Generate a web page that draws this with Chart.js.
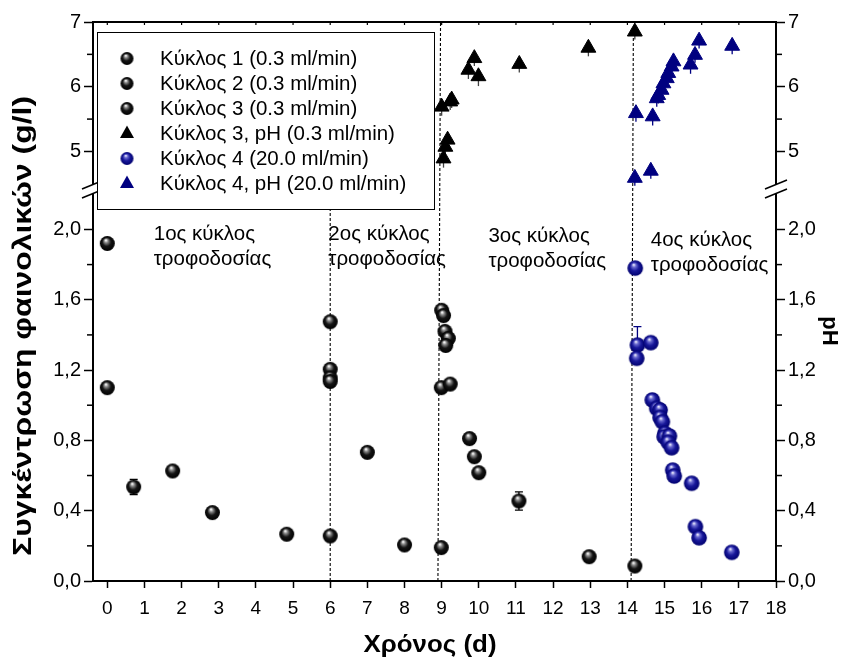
<!DOCTYPE html>
<html><head><meta charset="utf-8">
<script src="https://cdn.jsdelivr.net/npm/chart.js@4.4.1/dist/chart.umd.min.js"></script>
<style>html,body{margin:0;padding:0;background:#fff}#wrap{width:842px;height:660px;position:relative}</style>
</head><body><div id="wrap"><canvas id="c" width="842" height="660"></canvas></div>
<script>
// ---------- DATA ----------
const seriesLabels = [
  'Κύκλος 1 (0.3 ml/min)',
  'Κύκλος 2 (0.3 ml/min)',
  'Κύκλος 3 (0.3 ml/min)',
  'Κύκλος 3, pH (0.3 ml/min)',
  'Κύκλος 4 (20.0 ml/min)',
  'Κύκλος 4, pH (20.0 ml/min)'
];
// Cycle 1 phenolics (g/l)
const c1X = [0, 0, 0.71, 1.76, 2.83, 4.83, 6.0];
const c1Y = [1.92, 1.10, 0.535, 0.626, 0.389, 0.266, 0.256];
const c1Err = [0, 0, 0.043, 0, 0, 0, 0];
// Cycle 2 phenolics
const c2X = [6.0, 6.0, 6.0, 6.0, 7.0, 8.0, 8.99];
const c2Y = [1.475, 1.204, 1.155, 1.135, 0.732, 0.205, 0.19];
const c2Err = [0, 0, 0, 0, 0, 0, 0];
// Cycle 3 phenolics
const c3X = [9.0, 9.05, 9.09, 9.18, 9.11, 8.99, 9.23, 9.75, 9.88, 10.0, 11.08, 12.97, 14.2];
const c3Y = [1.54, 1.51, 1.42, 1.38, 1.34, 1.10, 1.12, 0.81, 0.707, 0.616, 0.455, 0.138, 0.085];
const c3Err = [0, 0, 0, 0, 0, 0, 0, 0, 0, 0, 0.052, 0, 0];
// Cycle 3 pH
const c3pHX = [9.0, 9.23, 9.27, 9.05, 9.10, 9.16, 9.72, 9.88, 9.99, 11.09, 12.95, 14.2];
const c3pHY = [5.69, 5.77, 5.80, 4.89, 5.07, 5.18, 6.26, 6.44, 6.16, 6.35, 6.60, 6.85];
const c3pHErr = [0.14, 0.13, 0.13, 0.14, 0.12, 0.12, 0.14, 0.12, 0.15, 0.13, 0.13, 0.12];
// Cycle 4 phenolics
const c4X = [14.21, 14.27, 14.25, 14.63, 14.67, 14.79, 14.88, 14.88, 14.94, 15.01, 14.99, 15.13, 15.1, 15.19, 15.22, 15.26, 15.73, 15.83, 15.93, 16.81];
const c4Y = [1.78, 1.342, 1.267, 1.356, 1.03, 0.982, 0.973, 0.93, 0.906, 0.84, 0.82, 0.825, 0.789, 0.758, 0.631, 0.597, 0.556, 0.309, 0.246, 0.163];
const c4Err = [0, 0.105, 0, 0, 0, 0, 0, 0, 0, 0, 0, 0, 0, 0, 0, 0, 0, 0, 0, 0];
// Cycle 4 pH
const c4pHX = [14.23, 14.2, 14.63, 14.68, 14.79, 14.83, 14.92, 14.97, 15.06, 15.1, 15.19, 15.24, 15.70, 15.82, 15.93, 16.82];
const c4pHY = [5.59, 4.59, 4.70, 5.54, 5.82, 5.87, 5.95, 6.05, 6.13, 6.21, 6.31, 6.39, 6.34, 6.49, 6.71, 6.63];
const c4pHErr = [0.13, 0.12, 0.12, 0.14, 0.13, 0.13, 0.12, 0.12, 0.12, 0.12, 0.12, 0.12, 0.14, 0.12, 0.12, 0.13];

// axis ticks
const xTicks = [0,1,2,3,4,5,6,7,8,9,10,11,12,13,14,15,16,17,18];
const concTicks = [0, 0.4, 0.8, 1.2, 1.6, 2.0];
const concMinor = [0.2, 0.6, 1.0, 1.4, 1.8];
const phTicks = [5, 6, 7];
const phMinor = [5.5, 6.5];

// feeding-cycle dividers (dashed lines): x at bottom, x at top, top value
const dividerXBottom = [6.0, 8.90, 14.10];
const dividerXTop = [6.0, 8.97, 14.16];
const dividerTopAxis = ['yB', 'yT', 'yT'];
const dividerTopValue = [2.17, 7.0, 6.84];

// annotations
const annotLine1 = ['1ος κύκλος', '2ος κύκλος', '3ος κύκλος', '4ος κύκλος'];
const annotLine2 = ['τροφοδοσίας', 'τροφοδοσίας', 'τροφοδοσίας', 'τροφοδοσίας'];
const annotX = [1.25, 5.95, 10.26, 14.63];
const annotY = [1.97, 1.97, 1.96, 1.94];

// ---------- STYLE ----------
const FONT = "'Liberation Sans', Arial, sans-serif";
const NAVY = '#000080';
function makeSphere(r, stops) {
  const s = Math.ceil(2 * r) + 2;
  const cv = document.createElement('canvas');
  cv.width = s; cv.height = s;
  const g = cv.getContext('2d');
  const cx = s / 2, cy = s / 2;
  const grad = g.createRadialGradient(cx - r * 0.2, cy - r * 0.45, r * 0.05, cx, cy, r);
  stops.forEach(st => grad.addColorStop(st[0], st[1]));
  g.fillStyle = grad;
  g.beginPath(); g.arc(cx, cy, r, 0, Math.PI * 2); g.fill();
  return cv;
}
const blackStops = [[0, '#ffffff'], [0.22, '#8a8a8a'], [0.55, '#151515'], [1, '#000000']];
const blueStops = [[0, '#f0f0ff'], [0.22, '#6a6ad0'], [0.55, '#18189a'], [1, '#00006e']];
const sphereBlack = makeSphere(7.5, blackStops);
const sphereBlue = makeSphere(7.8, blueStops);
const sphereBlackLg = makeSphere(6.5, blackStops);
const sphereBlueLg = makeSphere(6.5, blueStops);

function pts(xs, ys) { return xs.map((x, i) => ({ x: x, y: ys[i] })); }

function sphereSet(i, xs, ys, errs, img, col) {
  return { label: seriesLabels[i], data: pts(xs, ys), errors: errs, errColor: col, errCap: 8,
    yAxisID: 'yB', pointStyle: img, pointRadius: 7.5, showLine: false, clip: false };
}
function triSet(i, xs, ys, errs, col, stemCol) {
  return { label: seriesLabels[i], data: pts(xs, ys), errors: errs, errColor: stemCol, errCap: 0, errDownOnly: true,
    yAxisID: 'yT', pointStyle: 'triangle', pointRadius: 8.6, backgroundColor: col, borderColor: col,
    borderWidth: 1, showLine: false, clip: false };
}

const datasets = [
  sphereSet(0, c1X, c1Y, c1Err, sphereBlack, '#000'),
  sphereSet(1, c2X, c2Y, c2Err, sphereBlack, '#000'),
  sphereSet(2, c3X, c3Y, c3Err, sphereBlack, '#000'),
  triSet(3, c3pHX, c3pHY, c3pHErr, '#000', '#444'),
  sphereSet(4, c4X, c4Y, c4Err, sphereBlue, NAVY),
  triSet(5, c4pHX, c4pHY, c4pHErr, NAVY, NAVY)
];
const legendImgs = [sphereBlackLg, sphereBlackLg, sphereBlackLg, 'tri', sphereBlueLg, 'tri'];
const legendCols = ['#000', '#000', '#000', '#000', NAVY, NAVY];

const yTickFont = { family: FONT, size: 20 };
const xTickFont = { family: FONT, size: 19 };
function setTicks(arr) { return s => { s.ticks = arr.map(v => ({ value: v })); }; }
const fmtConc = v => v.toFixed(1).replace('.', ',');
const fmtPH = v => String(v);

function yAxis(pos, stack, weight, min, max, ticks, fmt, width) {
  return {
    type: 'linear', position: pos, stack: stack, stackWeight: weight, min: min, max: max,
    afterBuildTicks: setTicks(ticks),
    afterFit: s => { s.width = width; },
    ticks: { font: yTickFont, color: '#000', padding: 3, callback: fmt, autoSkip: false },
    grid: { drawOnChartArea: false, drawTicks: true, tickLength: 9, tickColor: '#000', tickWidth: 1.5 },
    border: { color: '#000', width: 2 }
  };
}

function stretchText(ctx, text, cx, cy, rot, targetLen) {
  ctx.save();
  ctx.translate(cx, cy); ctx.rotate(rot);
  const w = ctx.measureText(text).width;
  ctx.scale(targetLen / w, 1);
  ctx.fillText(text, 0, 0);
  ctx.restore();
}

// ---------- PLUGINS ----------
const decor = {
  id: 'decor',
  beforeDatasetsDraw(chart) {
    const ctx = chart.ctx, xs = chart.scales.x;
    ctx.save();
    ctx.strokeStyle = '#000'; ctx.lineWidth = 1.1; ctx.setLineDash([3, 2]);
    dividerXBottom.forEach((xb, i) => {
      const ys = chart.scales[dividerTopAxis[i]];
      ctx.beginPath();
      ctx.moveTo(xs.getPixelForValue(xb), chart.scales.yB.getPixelForValue(0));
      ctx.lineTo(xs.getPixelForValue(dividerXTop[i]), ys.getPixelForValue(dividerTopValue[i]));
      ctx.stroke();
    });
    ctx.restore();
    ctx.save();
    chart.data.datasets.forEach(ds => {
      if (!ds.errors) return;
      const ys = chart.scales[ds.yAxisID];
      ctx.strokeStyle = ds.errColor; ctx.lineWidth = 1.3;
      ds.data.forEach((p, i) => {
        const e = ds.errors[i];
        if (!e) return;
        const px = xs.getPixelForValue(p.x);
        const top = ds.errDownOnly ? ys.getPixelForValue(p.y) : ys.getPixelForValue(p.y + e);
        const bot = ys.getPixelForValue(p.y - e);
        ctx.beginPath(); ctx.moveTo(px, top); ctx.lineTo(px, bot);
        if (ds.errCap) {
          const h = ds.errCap / 2;
          ctx.moveTo(px - h, bot); ctx.lineTo(px + h, bot);
          if (!ds.errDownOnly) { ctx.moveTo(px - h, top); ctx.lineTo(px + h, top); }
        }
        ctx.stroke();
      });
    });
    ctx.restore();
  },
  afterDraw(chart) {
    const ctx = chart.ctx, ca = chart.chartArea, xs = chart.scales.x;
    ctx.save();
    ctx.strokeStyle = '#000'; ctx.lineWidth = 2;
    ctx.beginPath(); ctx.moveTo(ca.left - 1, ca.top); ctx.lineTo(ca.right + 1, ca.top); ctx.stroke();
    ctx.lineWidth = 1.2;
    xTicks.forEach(v => {
      const px = xs.getPixelForValue(v);
      ctx.beginPath(); ctx.moveTo(px, ca.top); ctx.lineTo(px, ca.top + 3); ctx.stroke();
    });
    ctx.lineWidth = 1.5;
    [['yB', concMinor, -1], ['yBR', concMinor, 1], ['yT', phMinor, -1], ['yTR', phMinor, 1]].forEach(([id, arr, dir]) => {
      const s = chart.scales[id];
      const x0 = dir < 0 ? ca.left : ca.right;
      arr.forEach(v => {
        const py = s.getPixelForValue(v);
        ctx.beginPath(); ctx.moveTo(x0, py); ctx.lineTo(x0 + dir * 6, py); ctx.stroke();
      });
    });
    const yb = chart.scales.yB.top;
    [ca.left, ca.right].forEach(x => {
      ctx.fillStyle = '#fff';
      ctx.fillRect(x - 2, yb - 5, 4, 10);
      ctx.strokeStyle = '#000'; ctx.lineWidth = 1.5;
      [-4.5, 4.5].forEach(o => {
        ctx.beginPath();
        ctx.moveTo(x - 11, yb + o + 4.5); ctx.lineTo(x + 11, yb + o - 4.5); ctx.stroke();
      });
    });
    ctx.fillStyle = '#000'; ctx.font = '20.5px ' + FONT; ctx.textAlign = 'left'; ctx.textBaseline = 'middle';
    annotX.forEach((ax, i) => {
      const px = xs.getPixelForValue(ax), py = chart.scales.yB.getPixelForValue(annotY[i]);
      ctx.fillText(annotLine1[i], px, py);
      ctx.fillText(annotLine2[i], px, py + 25);
    });
    const L = 97, T = 32, R = 434, B = 209;
    ctx.fillStyle = '#fff'; ctx.fillRect(L, T, R - L, B - T);
    ctx.strokeStyle = '#000'; ctx.lineWidth = 1; ctx.strokeRect(L + 0.5, T + 0.5, R - L, B - T);
    chart.data.datasets.forEach((ds, i) => {
      const cy = 58.5 + 25 * i, cx = 127;
      const st = legendImgs[i];
      if (st === 'tri') {
        ctx.fillStyle = legendCols[i];
        ctx.beginPath(); ctx.moveTo(cx, cy - 8); ctx.lineTo(cx + 7, cy + 4.5); ctx.lineTo(cx - 7, cy + 4.5); ctx.closePath(); ctx.fill();
      } else {
        ctx.drawImage(st, cx - st.width / 2, cy - st.height / 2);
      }
      ctx.fillStyle = '#000'; ctx.font = '20.5px ' + FONT; ctx.textAlign = 'left'; ctx.textBaseline = 'middle';
      ctx.fillText(ds.label, 160, cy + 1);
    });
    ctx.fillStyle = '#000'; ctx.textAlign = 'center'; ctx.textBaseline = 'middle';
    ctx.font = 'bold 24px ' + FONT;
    stretchText(ctx, 'Χρόνος (d)', 430, 645, 0, 133);
    ctx.font = 'bold 25px ' + FONT;
    stretchText(ctx, 'Συγκέντρωση φαινολικών (g/l)', 24, 326, -Math.PI / 2, 460);
    ctx.font = 'bold 22px ' + FONT;
    ctx.save(); ctx.translate(829, 331); ctx.rotate(Math.PI / 2);
    ctx.fillText('pH', 0, 0); ctx.restore();
    ctx.restore();
  }
};

Chart.defaults.font.family = FONT;
new Chart(document.getElementById('c'), {
  type: 'scatter',
  data: { datasets: datasets },
  options: {
    responsive: false, animation: false, events: [],
    layout: { padding: { top: 22, left: 0, right: 0, bottom: 0 } },
    plugins: { legend: { display: false }, tooltip: { enabled: false } },
    scales: {
      x: {
        type: 'linear', position: 'bottom', min: -0.385, max: 18,
        afterBuildTicks: setTicks(xTicks),
        afterFit: s => { s.height = 79; },
        ticks: { font: xTickFont, color: '#000', padding: 9, callback: v => String(v), autoSkip: false, maxRotation: 0 },
        grid: { drawOnChartArea: false, tickLength: 7, tickColor: '#000', tickWidth: 1.5 },
        border: { color: '#000', width: 2 }
      },
      yB: yAxis('left', 'L', 392, 0, 2.23, concTicks, fmtConc, 93),
      yT: yAxis('left', 'L', 167, 4.42, 7, phTicks, fmtPH, 93),
      yTR: yAxis('right', 'R', 167, 4.42, 7, phTicks, fmtPH, 66),
      yBR: yAxis('right', 'R', 392, 0, 2.23, concTicks, fmtConc, 66)
    }
  },
  plugins: [decor]
});
</script></body></html>
